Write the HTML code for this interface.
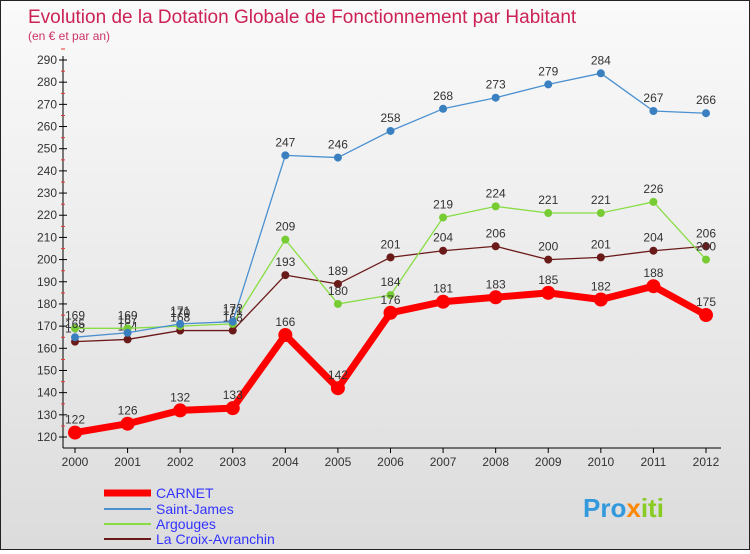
<!DOCTYPE html>
<html><head><meta charset="utf-8"><style>
body{margin:0;width:750px;height:550px;overflow:hidden;font-family:"Liberation Sans",sans-serif}
#wrap{position:relative;width:748px;height:548px;border:1px solid #222;background:linear-gradient(#fafafa,#dcdcdc)}
</style></head><body>
<div id="wrap">
<svg id="chart" width="748" height="548">
<text x="27" y="22" font-size="19" fill="#cc2255">Evolution de la Dotation Globale de Fonctionnement par Habitant</text>
<text x="27" y="39" font-size="12" fill="#cc3366">(en € et par an)</text>
<g id="axes"></g><g id="series"></g>
<g>
<line x1="103" y1="492" x2="150" y2="492" stroke="#ff0000" stroke-width="7"/>
<text x="155" y="497" font-size="14" fill="#3333ff">CARNET</text>
<line x1="103" y1="508" x2="150" y2="508" stroke="#4a90d0" stroke-width="2"/>
<text x="155" y="513" font-size="14" fill="#3333ff">Saint-James</text>
<line x1="103" y1="523" x2="150" y2="523" stroke="#88dd44" stroke-width="2"/>
<text x="155" y="528" font-size="14" fill="#3333ff">Argouges</text>
<line x1="103" y1="538" x2="150" y2="538" stroke="#6b1a1a" stroke-width="2"/>
<text x="155" y="543" font-size="14" fill="#3333ff">La Croix-Avranchin</text>
</g>
<text x="582" y="516" font-size="26" font-weight="bold" fill="#3399dd">Pro<tspan fill="#ff8800">x</tspan><tspan fill="#88cc22">iti</tspan></text>
</svg></div>
<script>
const years=[2000,2001,2002,2003,2004,2005,2006,2007,2008,2009,2010,2011,2012];
const carnet=[122,126,132,133,166,142,176,181,183,185,182,188,175];
const saintJames=[165,167,171,172,247,246,258,268,273,279,284,267,266];
const argouges=[169,169,170,171,209,180,184,219,224,221,221,226,200];
const laCroix=[163,164,168,168,193,189,201,204,206,200,201,204,206];
const yTicks=[120,130,140,150,160,170,180,190,200,210,220,230,240,250,260,270,280,290];
const NS="http://www.w3.org/2000/svg";
const X0=74,X1=705,YMIN=120,YMAX=290,PY0=436,PY1=59;
const xs=i=>X0+i*(X1-X0)/(years.length-1);
const ys=v=>PY0-(v-YMIN)*(PY0-PY1)/(YMAX-YMIN);
function mk(t,a,p){const e=document.createElementNS(NS,t);for(const k in a)e.setAttribute(k,a[k]);p.appendChild(e);return e;}
const ax=document.getElementById('axes');
const yl=mk('line',{x1:62,y1:55,x2:62,y2:447,stroke:'#000'},ax);


const xl=mk('line',{x1:62,y1:447,x2:720,y2:447,stroke:'#000'},ax);


yTicks.forEach(v=>{const y=ys(v);
mk('line',{x1:58,y1:y,x2:66,y2:y,stroke:'#000'},ax);
mk('line',{x1:60,y1:y-11,x2:64,y2:y-11,stroke:'#e33'},ax);
const t=mk('text',{x:56,y:y+4,'font-size':12,fill:'#333','text-anchor':'end'},ax);t.textContent=v;

});
years.forEach((yr,i)=>{const x=xs(i);
mk('line',{x1:x,y1:447,x2:x,y2:452,stroke:'#000'},ax);
const t=mk('text',{x:x,y:465,'font-size':12,fill:'#333','text-anchor':'middle'},ax);t.textContent=yr;

});
const sg=document.getElementById('series');
function draw(data,color,w,r,name,dot){
const g=mk('g',{},sg);


const p=mk('polyline',{points:data.map((v,i)=>xs(i)+','+ys(v)).join(' '),fill:'none',stroke:color,'stroke-width':w,'stroke-linejoin':'round'},g);


data.forEach((v,i)=>{const c=mk('circle',{cx:xs(i),cy:ys(v),r:r,fill:dot},g);


const t=mk('text',{x:xs(i),y:ys(v)-9,'font-size':12,fill:'#333','text-anchor':'middle'},g);t.textContent=v;

});}
draw(laCroix,'#6b1a1a',1.3,4,'la-croix-avranchin','#6b1a1a');
draw(argouges,'#88dd44',1.3,4,'argouges','#77cc33');
draw(saintJames,'#4a90d0',1.3,4,'saint-james','#3a80c0');
draw(carnet,'#ff0000',7,7,'carnet','#ff0000');
</script></body></html>
